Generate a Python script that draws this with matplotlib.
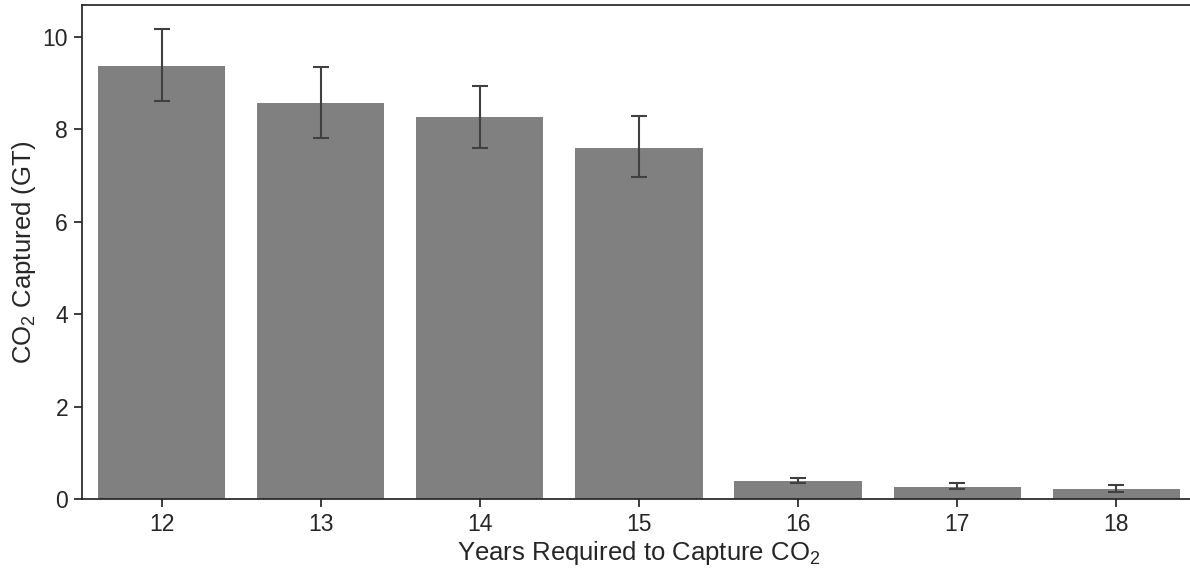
import matplotlib
matplotlib.use("Agg")
import matplotlib.pyplot as plt
import numpy as np

plt.rcParams['font.family'] = ['Liberation Sans', 'DejaVu Sans']
plt.rcParams['mathtext.fontset'] = 'custom'
plt.rcParams['mathtext.rm'] = 'Liberation Sans'
plt.rcParams['mathtext.it'] = 'Liberation Sans:italic'
plt.rcParams['mathtext.bf'] = 'Liberation Sans:bold'

years = ["12", "13", "14", "15", "16", "17", "18"]
captured = [9.37, 8.57, 8.26, 7.60, 0.38, 0.27, 0.21]
err_low = [8.62, 7.82, 7.60, 6.97, 0.35, 0.22, 0.16]
err_high = [10.17, 9.34, 8.95, 8.28, 0.46, 0.35, 0.31]

fig = plt.figure(figsize=(11.9, 5.69), dpi=100)
ax = fig.add_axes([0.0689, 0.123, 1.005 - 0.0689, 0.991 - 0.123])

x = np.arange(len(years))
yerr = [np.array(captured) - np.array(err_low), np.array(err_high) - np.array(captured)]
ax.bar(x, captured, width=0.8, color='#808080', zorder=1)
ax.errorbar(x, captured, yerr=yerr, fmt='none', ecolor='#404040', elinewidth=1.5,
            capsize=6, capthick=1.5, zorder=2)

ax.set_xlim(-0.5, len(years) - 0.5)
ax.set_ylim(0, 10.69)
ax.set_xticks(x)
ax.set_xticklabels(years)
ax.set_yticks([0, 2, 4, 6, 8, 10])
for s in ax.spines.values():
    s.set_color('#262626')
    s.set_linewidth(1.25)
ax.tick_params(axis='both', which='major', labelsize=16.5, length=6, width=1.25,
               color='#262626', labelcolor='#262626', direction='out', pad=4)
ax.set_xlabel('Years Required to Capture CO$_\\mathrm{2}$', fontsize=18.5, color='#262626', labelpad=2)
ax.set_ylabel('CO$_\\mathrm{2}$ Captured (GT)', fontsize=18.5, color='#262626', labelpad=3)

fig.savefig('out.png', dpi=100)
